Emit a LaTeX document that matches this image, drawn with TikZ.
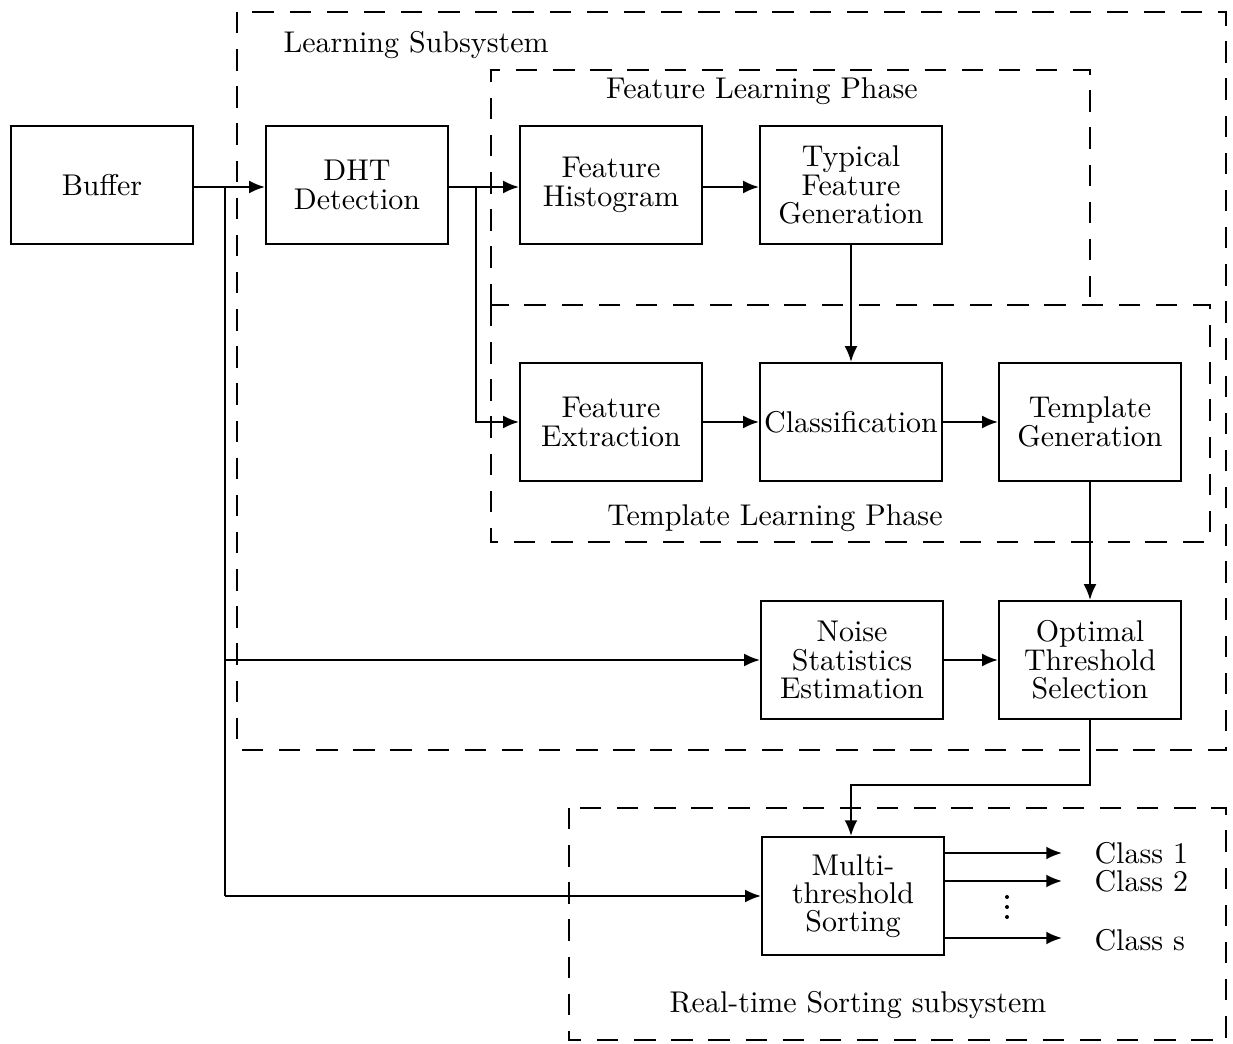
\documentclass[tikz,border=0pt]{standalone}
\usetikzlibrary{arrows.meta}
\begin{document}
\begin{tikzpicture}[x=0.35pt,y=-0.35pt,
  blk/.style={draw,line width=0.75pt,minimum width=182*0.35pt,minimum height=118*0.35pt,align=center,inner sep=1pt,font=\fontsize{10.5}{9.9}\selectfont},
  grp/.style={line width=0.7pt,dash pattern=on 7.5pt off 5.5pt},
  con/.style={line width=0.7pt},
  arr/.style={con,-{Latex[length=5.5pt,width=4.5pt]}},
  lbl/.style={font=\fontsize{10.5}{12.5}\selectfont,inner sep=0pt}]
\useasboundingbox (0,0) rectangle (1233,1044);
% group boxes
\draw[grp] (237,12) rectangle (1226,750);
\draw[grp] (491,305) -- (491,70) -- (1090,70) -- (1090,305);
\draw[grp] (491,305) rectangle (1210,542);
\draw[grp] (569,808) rectangle (1226,1040);
\node[lbl,anchor=west] (lsub) at (283,45) {Learning Subsystem};
\node[lbl] (flp) at (762,91) {Feature Learning Phase};
\node[lbl] (tlp) at (775,518) {Template Learning Phase};
\node[lbl] (rts) at (858,1005) {Real-time Sorting subsystem};
% blocks
\node[blk] (buf) at (102,185) {Buffer};
\node[blk] (dht) at (357,185) {DHT\\Detection};
\node[blk] (fh) at (611,185) {Feature\\Histogram};
\node[blk] (tfg) at (851,185) {Typical\\Feature\\Generation};
\node[blk] (fe) at (611,422) {Feature\\Extraction};
\node[blk] (cls) at (851,422) {Classification};
\node[blk] (tg) at (1090,422) {Template\\Generation};
\node[blk] (nse) at (852,660) {Noise\\Statistics\\Estimation};
\node[blk] (ots) at (1090,660) {Optimal\\Threshold\\Selection};
\node[blk] (mts) at (853,896) {Multi-\\threshold\\Sorting};
% junction coordinates
\coordinate (j1) at (225,187);
\coordinate (j2) at (476,187);
% connectors
\draw[arr] (buf.east |- j1) -- (dht.west |- j1);
\draw[con] (j1) -- (225,896);
\draw[arr] (225,660) -- (nse.west);
\draw[arr] (225,896) -- (mts.west);
\draw[arr] (dht.east |- j2) -- (fh.west |- j2);
\draw[arr] (j2) -- (476,422) -- (fe.west);
\draw[arr] (fh.east |- j2) -- (tfg.west |- j2);
\draw[arr] (tfg.south) -- (cls.north);
\draw[arr] (fe) -- (cls);
\draw[arr] (cls) -- (tg);
\draw[arr] (tg) -- (ots);
\draw[arr] (nse) -- (ots);
\draw[arr] (ots.south) -- (1090,785) -- (851,785) -- (851,836);
% outputs
\coordinate (o1) at (1062,853);
\coordinate (o2) at (1062,881);
\coordinate (o3) at (1062,938);
\draw[arr] (mts.east |- o1) -- (o1);
\draw[arr] (mts.east |- o2) -- (o2);
\draw[arr] (mts.east |- o3) -- (o3);
\node[lbl,anchor=west] (c1) at (1094,853) {Class 1};
\node[lbl,anchor=west] (c2) at (1094,881) {Class 2};
\node[lbl,anchor=west] (cs) at (1094,940) {Class s};
\foreach \yy in {897,907,917} \fill (1007,\yy) circle (0.7pt);
\end{tikzpicture}
\end{document}
